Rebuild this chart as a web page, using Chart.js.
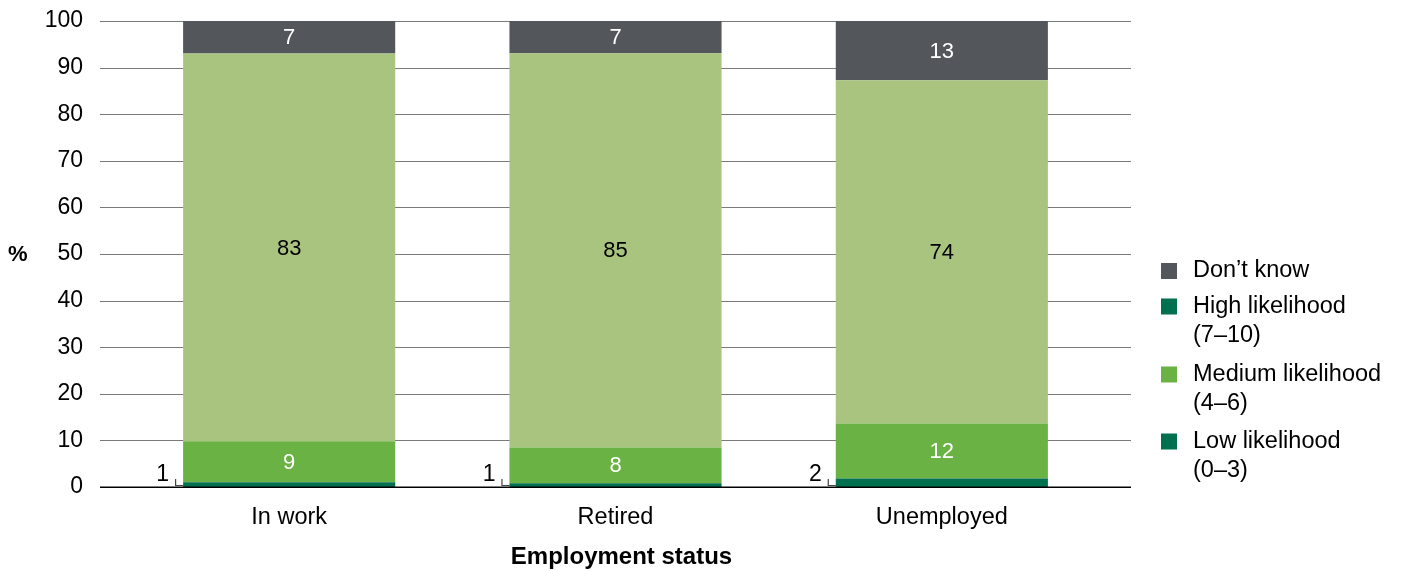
<!DOCTYPE html>
<html>
<head>
<meta charset="utf-8">
<script src="https://cdn.jsdelivr.net/npm/chart.js@4/dist/chart.umd.min.js"></script>
<style>
  html, body { margin: 0; padding: 0; background: #fff; }
  #wrap { width: 1402px; height: 571px; position: relative; }
</style>
</head>
<body>
<div id="wrap"><canvas id="c" width="1402" height="571"></canvas></div>
<script>
// ---- Data (labels show rounded values) ----
const categories = ['In work', 'Retired', 'Unemployed'];
const lowLikelihood = [1.0, 0.8, 1.8];
const mediumLikelihood = [8.8, 7.7, 11.8];
const highLikelihood = [83.2, 84.6, 73.7];
const dontKnow = [7.0, 6.9, 12.7];
const seriesNames = ['Low likelihood (0–3)', 'Medium likelihood (4–6)', 'High likelihood (7–10)', 'Don’t know'];
const legendTexts = [['Don’t know'], ['High likelihood', '(7–10)'], ['Medium likelihood', '(4–6)'], ['Low likelihood', '(0–3)']];
const yTickValues = [0, 10, 20, 30, 40, 50, 60, 70, 80, 90, 100];
const yAxisTitle = '%';
const xAxisTitle = 'Employment status';

// ---- Styles ----
const FONT = "'Liberation Sans', Arial, Helvetica, sans-serif";
const C_DARK = '#00704f';
const C_MED = '#6ab244';
const C_LIGHT = '#a9c47f';
const C_GREY = '#53575c';
const seriesColors = [C_DARK, C_MED, C_LIGHT, C_GREY];
const labelColors = ['#ffffff', '#ffffff', '#000000', '#ffffff'];
const legendColors = [C_GREY, C_DARK, C_MED, C_DARK];

const extras = {
  id: 'extras',
  beforeDatasetsDraw(chart) {
    const { ctx, chartArea: a, scales: { y } } = chart;
    ctx.save();
    ctx.strokeStyle = '#7a7a7a';
    ctx.lineWidth = 1;
    yTickValues.forEach(v => {
      if (v === 0) return;
      const py = Math.round(y.getPixelForValue(v)) + 0.5;
      ctx.beginPath();
      ctx.moveTo(a.left - 26, py);
      ctx.lineTo(a.right + 26, py);
      ctx.stroke();
    });
    ctx.restore();
  },
  afterDatasetsDraw(chart) {
    const { ctx, chartArea: a, scales: { y } } = chart;
    ctx.save();
    // baseline
    const y0 = y.getPixelForValue(0);
    ctx.strokeStyle = '#000';
    ctx.lineWidth = 1.6;
    ctx.beginPath();
    ctx.moveTo(a.left - 26, y0 + 0.3);
    ctx.lineTo(a.right + 26, y0 + 0.3);
    ctx.stroke();

    // data labels
    chart.data.datasets.forEach((ds, di) => {
      const meta = chart.getDatasetMeta(di);
      meta.data.forEach((el, i) => {
        const txt = String(Math.round(ds.data[i]));
        if (di === 0) {
          const left = el.x - el.width / 2;
          ctx.font = `23px ${FONT}`;
          ctx.fillStyle = '#000';
          ctx.textAlign = 'right';
          ctx.textBaseline = 'middle';
          ctx.fillText(txt, left - 14, y0 - 12);
          ctx.strokeStyle = '#444';
          ctx.lineWidth = 1.2;
          ctx.beginPath();
          ctx.moveTo(left - 7.5, y0 - 8);
          ctx.lineTo(left - 7.5, y0 - 1.5);
          ctx.lineTo(left, y0 - 1.5);
          ctx.stroke();
        } else {
          ctx.font = `22px ${FONT}`;
          ctx.fillStyle = labelColors[di];
          ctx.textAlign = 'center';
          ctx.textBaseline = 'middle';
          ctx.fillText(txt, el.x, (el.y + el.base) / 2 + 1);
        }
      });
    });

    // y axis title
    ctx.fillStyle = '#000';
    ctx.font = `bold 22px ${FONT}`;
    ctx.textAlign = 'left';
    ctx.textBaseline = 'middle';
    ctx.fillText(yAxisTitle, 8, 255);

    // x axis title
    ctx.font = `bold 24px ${FONT}`;
    ctx.textAlign = 'center';
    ctx.fillText(xAxisTitle, (a.left + a.right) / 2 + 6, 557);

    // legend
    ctx.font = `23.5px ${FONT}`;
    const rowY = [271, 306.5, 374.5, 441.5];
    legendTexts.forEach((lines, k) => {
      ctx.fillStyle = legendColors[k];
      ctx.fillRect(1161, rowY[k] - 8, 16, 16);
      ctx.fillStyle = '#000';
      ctx.textAlign = 'left';
      lines.forEach((ln, j) => ctx.fillText(ln, 1193, rowY[k] + j * 29));
    });
    ctx.restore();
  }
};

new Chart(document.getElementById('c'), {
  type: 'bar',
  data: {
    labels: categories,
    datasets: [lowLikelihood, mediumLikelihood, highLikelihood, dontKnow].map((d, i) => ({
      label: seriesNames[i],
      data: d,
      backgroundColor: seriesColors[i],
      borderWidth: 0,
      barPercentage: 0.65,
      categoryPercentage: 1.0
    }))
  },
  options: {
    responsive: false,
    animation: false,
    layout: { autoPadding: false, padding: { top: 21, right: 297, bottom: 0, left: 0 } },
    plugins: { legend: { display: false }, tooltip: { enabled: false } },
    scales: {
      x: {
        stacked: true,
        grid: { display: false, drawTicks: false },
        border: { display: false },
        ticks: { color: '#000', font: { family: FONT, size: 23.5 }, padding: 16, maxRotation: 0 },
        afterFit: s => { s.height = 84; s.paddingLeft = 0; s.paddingRight = 0; }
      },
      y: {
        stacked: true,
        min: 0, max: 100,
        grid: { display: false, drawTicks: false },
        border: { display: false },
        ticks: { stepSize: 10, color: '#000', font: { family: FONT, size: 23 }, padding: 43 },
        afterFit: s => { s.width = 126; s.paddingTop = 0; s.paddingBottom = 0; }
      }
    }
  },
  plugins: [extras]
});
</script>
</body>
</html>
